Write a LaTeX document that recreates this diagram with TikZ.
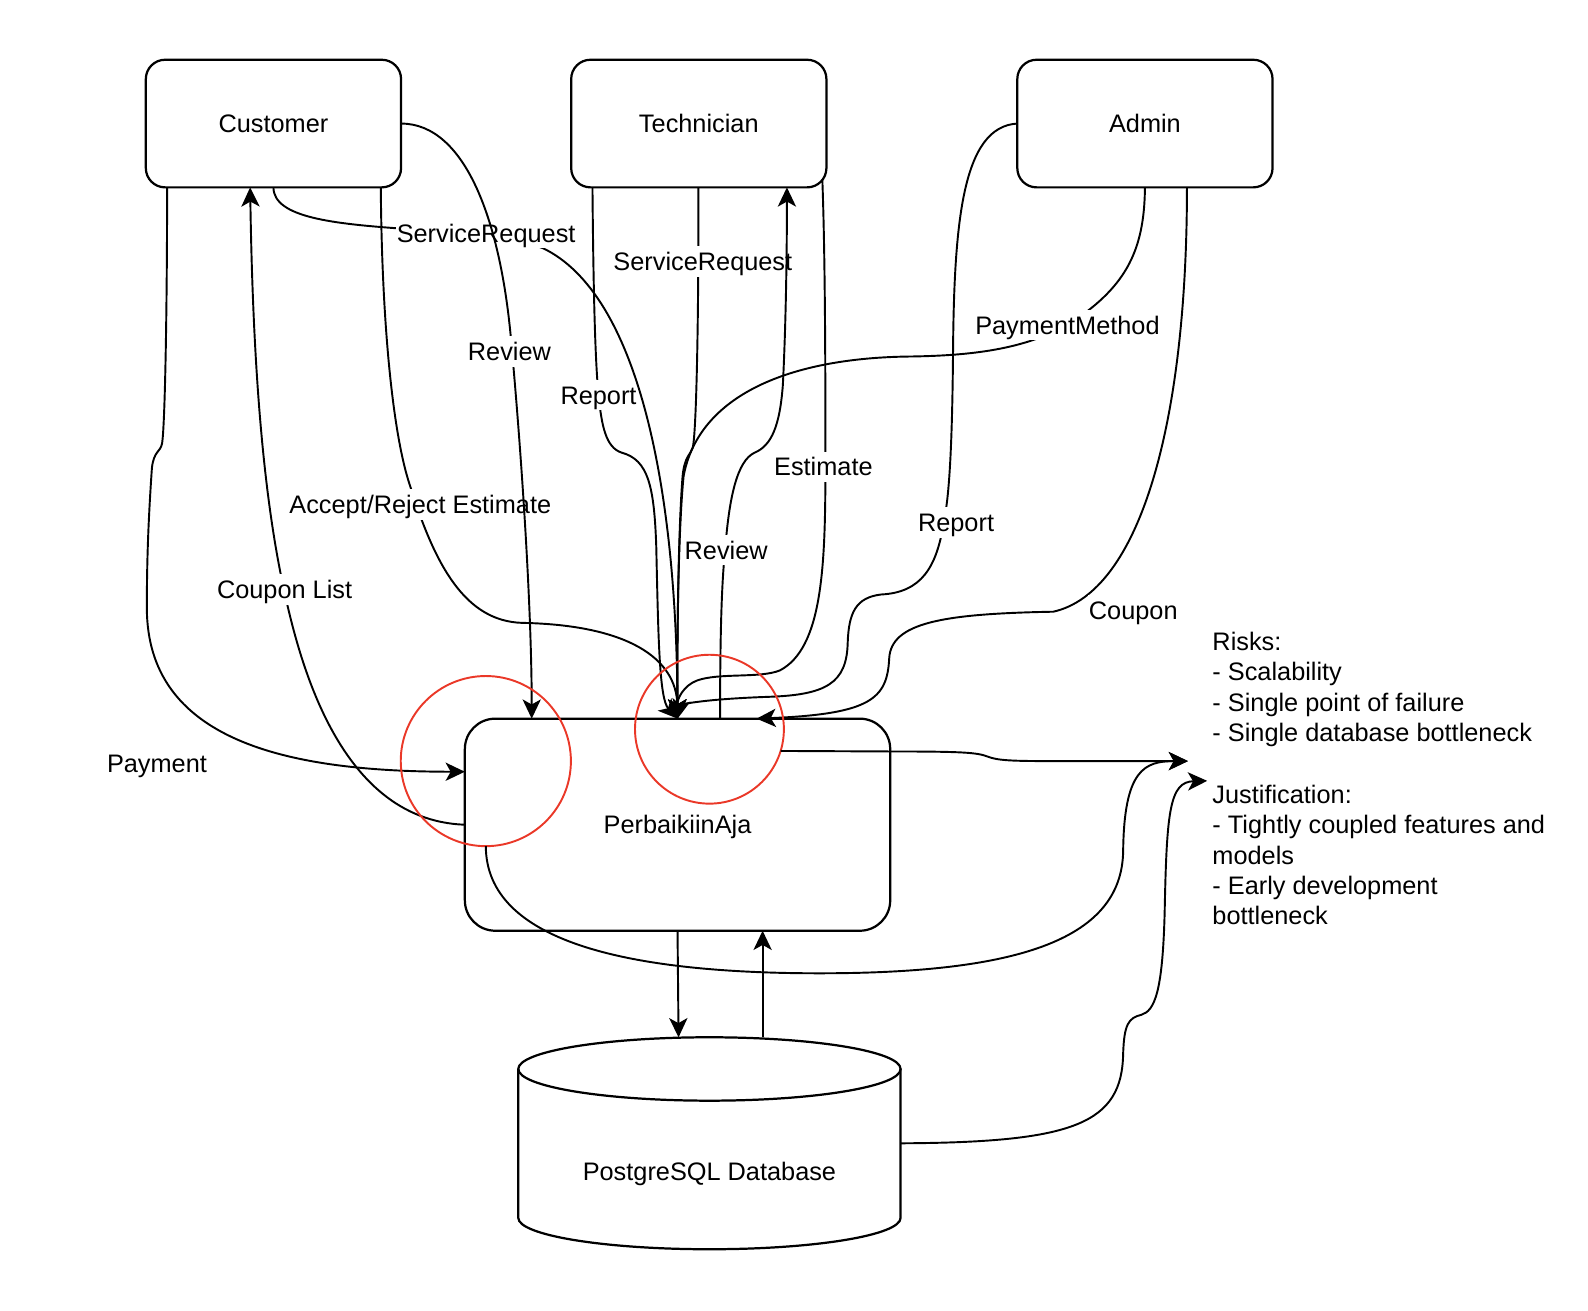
\documentclass[tikz,border=0pt]{standalone}
\usepackage{fontspec}
\setmainfont{Liberation Sans}
\usetikzlibrary{arrows.meta,calc}
\definecolor{circred}{RGB}{234,56,40}
\newcommand\myfont{\fontsize{25}{30}\selectfont}
\begin{document}
\begin{tikzpicture}[x=1pt,y=-1pt,
  shp/.style={draw, line width=2.2pt, font=\myfont, text height=23.5pt, text depth=5.6pt, inner sep=0pt, outer sep=0pt},
  actor/.style={shp, rounded corners=19pt, minimum width=252pt, minimum height=126pt},
  sys/.style={shp, rounded corners=30pt, minimum width=420pt, minimum height=209.4pt},
  edge/.style={line width=1.9pt},
  arr/.style={-{Stealth[length=19pt,width=18pt,inset=5pt]}},
  lbl/.style={fill=white, font=\myfont, text height=23.5pt, text depth=5.6pt, inner xsep=1pt, inner ysep=0.5pt},
  note/.style={font=\myfont, align=left, anchor=north west, inner sep=0pt},
  ring/.style={circle, draw=circred, line width=1.9pt, inner sep=0pt, outer sep=0pt}
]
\useasboundingbox (0,0) rectangle (1568,1293.5);

% shapes
\node[actor] (cust) at (270,122) {Customer};
\node[actor] (tech) at (690,122) {Technician};
\node[actor] (admin) at (1130.5,122) {Admin};
\node[sys] (main) at (669,814.3) {PerbaikiinAja};
\node[shp, draw=none, minimum width=377.5pt, minimum height=209.3pt, text height=74.1pt, text depth=0pt] (db) at (700.5,1128.9) {PostgreSQL Database};
\draw[line width=2.2pt] (db.north west |- 0,1055.5) -- (db.west |- 0,1202.5)
  arc[start angle=180, end angle=360, x radius=188.75pt, y radius=31pt] -- (db.north east |- 0,1055.5);
\draw[line width=2.2pt] (db.north |- 0,1055.5) ellipse[x radius=188.75pt, y radius=31.3pt];

\node[note] (risks) at (1197,618.45) {\rule{0pt}{23.5pt}Risks:\\- Scalability\\- Single point of failure\\- Single database bottleneck};
\node[note] (just) at (1197,769.45) {\rule{0pt}{23.5pt}Justification:\\- Tightly coupled features and\\models\\- Early development\\bottleneck};
\coordinate (risksIn) at (1173,751.5);
\coordinate (justIn) at (1192,771);

% Technician -> system : Report
\draw[edge,arr] (tech.south -| 585,0) .. controls (586,300) and (588,360) .. (591,390)
  .. controls (594,420) and (598,442) .. (614,447)
  .. controls (640,454) and (646,480) .. (648,540)
  .. controls (650,630) and (651,690) .. (main.north)
  node[lbl] at (591,390) {Report};

% Customer -> system : ServiceRequest
\draw[edge,arr] (cust.south) .. controls (270,215) and (330,221) .. (400,226)
  .. controls (450,229) and (500,233) .. (536,245)
  .. controls (630,290) and (668,480) .. (main.north)
  node[lbl] at (480,230) {ServiceRequest};

% Customer -> system : Accept/Reject Estimate
\draw[edge,arr] (cust.south -| 376,0) .. controls (377,320) and (388,430) .. (405,480)
  .. controls (430,560) and (460,613) .. (515,615)
  .. controls (620,617) and (668,650) .. (main.north)
  node[lbl] at (415,498) {Accept/Reject Estimate};

% Customer -> system : Review
\draw[edge,arr] (cust.east) .. controls (460,122) and (495,220) .. (505,340)
  .. controls (515,450) and (525,600) .. (main.north -| 525,0)
  node[lbl] at (503,347) {Review};

% Technician -> system : ServiceRequest
\draw[edge,arr] (tech.south -| 689.5,0) -- (689.5,258)
  .. controls (689,350) and (687,430) .. (684,442)
  .. controls (682,449) and (676,450) .. (674,470)
  .. controls (670,520) and (668.5,620) .. (main.north)
  node[lbl] at (694,258) {ServiceRequest};

% system -> Technician : Review
\draw[edge,arr] (main.north -| 711,0) .. controls (711,640) and (712,580) .. (716,543)
  .. controls (720,490) and (728,455) .. (745,447)
  .. controls (762,440) and (770,420) .. (773,380)
  .. controls (776,320) and (777,250) .. (tech.south -| 777,0)
  node[lbl] at (717,543) {Review};

% Technician -> system : Estimate
\draw[edge,arr] ($(tech.south -| 812,0)+(0,-7)$) .. controls (815,260) and (815,380) .. (815,461)
  .. controls (815,560) and (812,640) .. (770,662)
  .. controls (750,670) and (710,664) .. (688,672)
  .. controls (675,677) and (668.5,690) .. (main.north)
  node[lbl] at (813,461) {Estimate};

% Admin -> system : PaymentMethod
\draw[edge,arr] (admin.south) .. controls (1130,250) and (1110,285) .. (1054,321)
  .. controls (1010,345) and (960,351) .. (900,352)
  .. controls (780,353) and (690,390) .. (675,470)
  .. controls (670,520) and (668.5,620) .. (main.north)
  node[lbl] at (1054,321) {PaymentMethod};

% Admin -> system : Report
\draw[edge,arr] (admin.west) .. controls (950,125) and (942,220) .. (941,350)
  .. controls (940,460) and (936,495) .. (932,515)
  .. controls (925,560) and (910,585) .. (870,587)
  .. controls (845,590) and (838,605) .. (837,635)
  .. controls (836,675) and (815,686) .. (760,688)
  .. controls (700,690) and (672,695) .. (main.north)
  node[lbl] at (944,516) {Report};

% Admin -> system : Coupon
\draw[edge,arr] (admin.south -| 1172,0) .. controls (1172,420) and (1125,585) .. (1040,604)
  .. controls (930,606) and (880,615) .. (878,650)
  .. controls (876,690) and (860,705) .. (main.north -| 747,0)
  node[lbl] at (1119,603) {Coupon};

% Customer -> system : Payment
\draw[edge,arr] (cust.south -| 165,0) .. controls (165,300) and (163,420) .. (160,438)
  .. controls (158,447) and (152,445) .. (150,462)
  .. controls (146,520) and (145,560) .. (145,600)
  .. controls (145,730) and (280,762) .. (main.west |- 0,762)
  node[lbl] at (155,754) {Payment};

% system -> Customer : Coupon List
\draw[edge,arr] (main.west) .. controls (330,810) and (292,640) .. (277,566)
  .. controls (262,490) and (250,380) .. (cust.south -| 247,0)
  node[lbl] at (281,582) {Coupon List};

% system <-> database
\draw[edge,arr] (main.south -| 669,0) -- (db.north -| 670,0);
\draw[edge,arr] (db.north -| 753,0) -- (main.south -| 753,0);

% database -> justification
\draw[edge,arr] (db.east) .. controls (1060,1128) and (1108,1110) .. (1109,1040)
  .. controls (1110,1012) and (1114,1005) .. (1127,1002)
  .. controls (1140,998) and (1148,980) .. (1150,900)
  .. controls (1152,800) and (1155,772) .. (justIn);

% highlight circles
\node[ring, minimum size=168pt] (c1) at (479.7,751.5) {};
\node[ring, minimum size=147pt] (c2) at (700.5,720) {};

\draw[edge,arr] (c2.-17.4) -- (880,742) .. controls (950,742) and (965,743) .. (975,747)
  .. controls (985,751) and (1000,751.5) .. (1040,751.5) -- (risksIn);
\draw[edge,arr] (c1.south) .. controls (480,930) and (620,960) .. (800,961)
  .. controls (1000,962) and (1108,930) .. (1109,840)
  .. controls (1110,760) and (1130,751.5) .. (risksIn);
\end{tikzpicture}
\end{document}
